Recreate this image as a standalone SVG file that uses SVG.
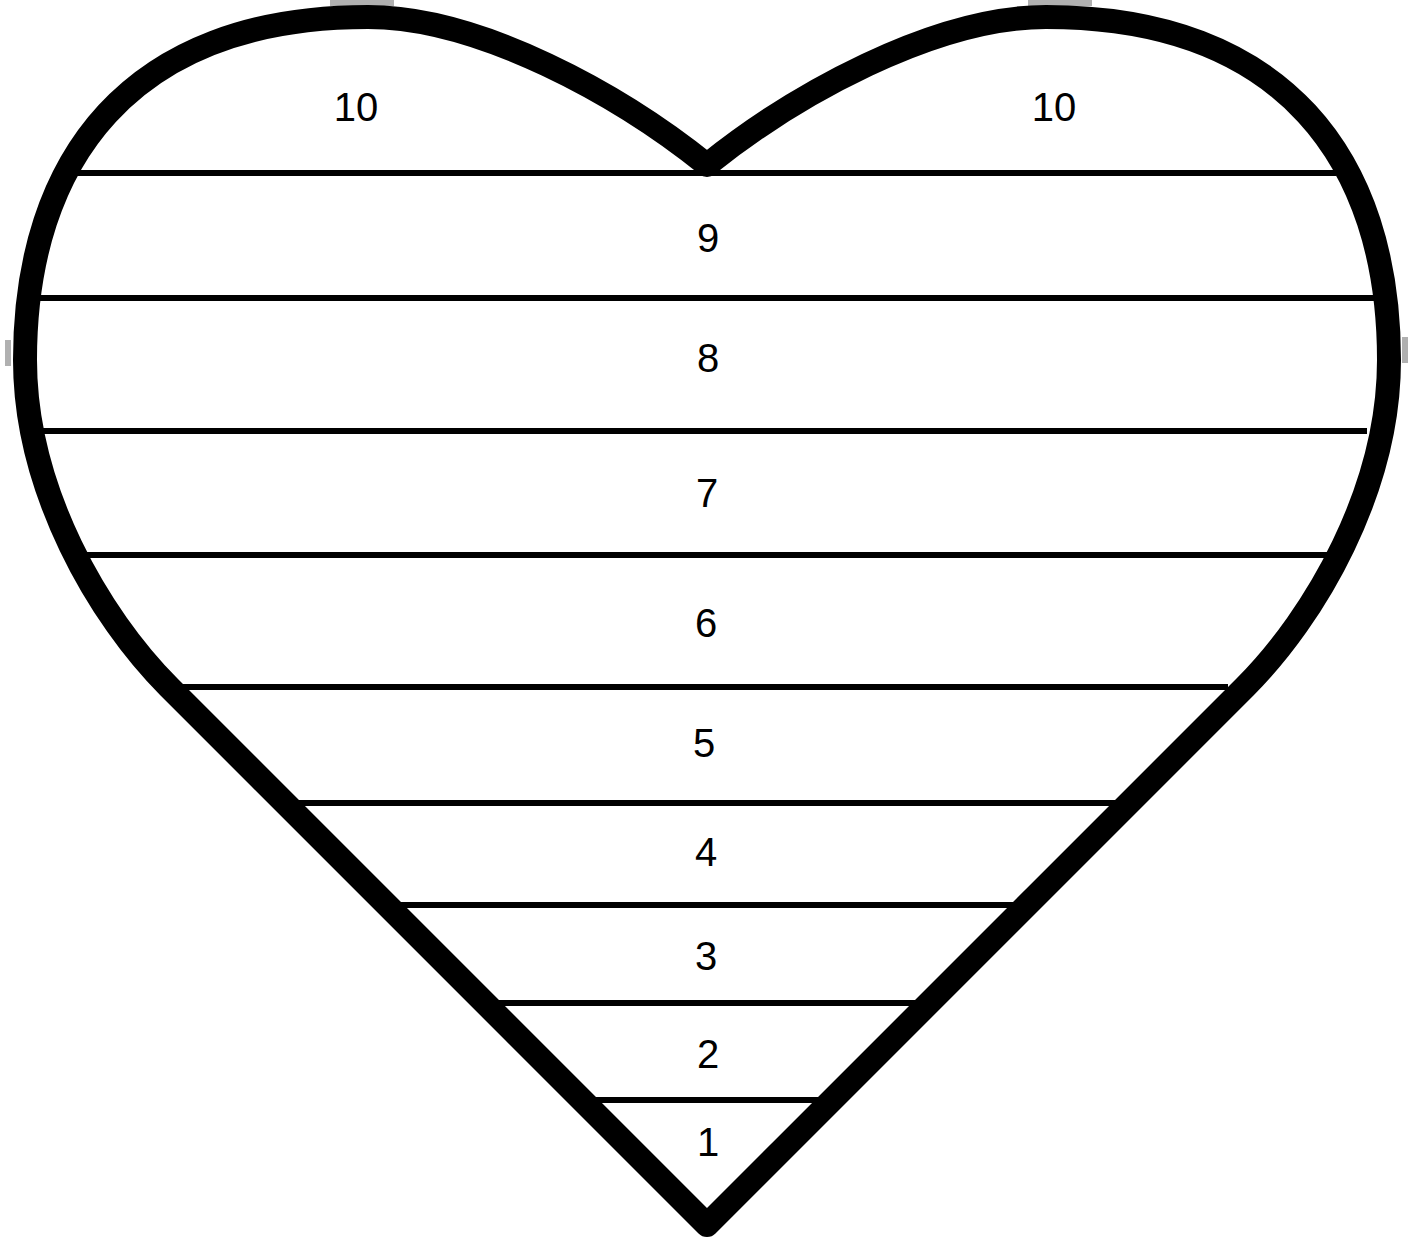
<svg xmlns="http://www.w3.org/2000/svg" width="1414" height="1249" viewBox="0 0 1414 1249">
  <style>
    .band { stroke: #000; stroke-width: 6; fill: none; }
    .heart { stroke: #000; stroke-width: 24; fill: none; stroke-linejoin: round; }
    .lbl { font-family: "Liberation Sans", Arial, sans-serif; font-size: 40px; fill: #000; text-anchor: middle; }
    .tab { fill: #b0b0b0; }
  </style>
  <rect width="1414" height="1249" fill="#fff"/>
  <g id="artifacts">
    <rect class="tab" x="330" y="0" width="64" height="6"/>
    <rect class="tab" x="1028" y="0" width="64" height="6"/>
    <rect class="tab" x="5" y="340" width="6" height="26"/>
    <rect class="tab" x="1402" y="337" width="6" height="26"/>
  </g>
  <g id="connectors">
    <line class="band" x1="76" y1="173" x2="1336" y2="173"/>
    <line class="band" x1="34" y1="298" x2="1380" y2="298"/>
    <line class="band" x1="34" y1="431" x2="1367" y2="431"/>
    <line class="band" x1="78" y1="555" x2="1334" y2="555"/>
    <line class="band" x1="175" y1="687" x2="1228" y2="687"/>
    <line class="band" x1="295" y1="803" x2="1116" y2="803"/>
    <line class="band" x1="396" y1="905" x2="1017" y2="905"/>
    <line class="band" x1="493" y1="1003" x2="920" y2="1003"/>
    <line class="band" x1="592" y1="1100" x2="822" y2="1100"/>
  </g>
  <g id="heart">
    <path class="heart" d="M707,1225 L169,687 C99,617 25,490 25,360 C25,160 130,17 368,17 C480,17 620,95 707,165 C794,95 934,17 1046,17 C1284,17 1389,160 1389,360 C1389,490 1315,617 1245,687 Z"/>
  </g>
  <g id="labels">
    <g id="n10a"><text class="lbl" x="356" y="121">10</text></g>
    <g id="n10b"><text class="lbl" x="1054" y="121">10</text></g>
    <g id="n9"><text class="lbl" x="708" y="252">9</text></g>
    <g id="n8"><text class="lbl" x="708" y="372">8</text></g>
    <g id="n7"><text class="lbl" x="707" y="507">7</text></g>
    <g id="n6"><text class="lbl" x="706" y="637">6</text></g>
    <g id="n5"><text class="lbl" x="704" y="757">5</text></g>
    <g id="n4"><text class="lbl" x="706" y="866">4</text></g>
    <g id="n3"><text class="lbl" x="706" y="970">3</text></g>
    <g id="n2"><text class="lbl" x="708" y="1068">2</text></g>
    <g id="n1"><text class="lbl" x="708" y="1156">1</text></g>
  </g>
</svg>
